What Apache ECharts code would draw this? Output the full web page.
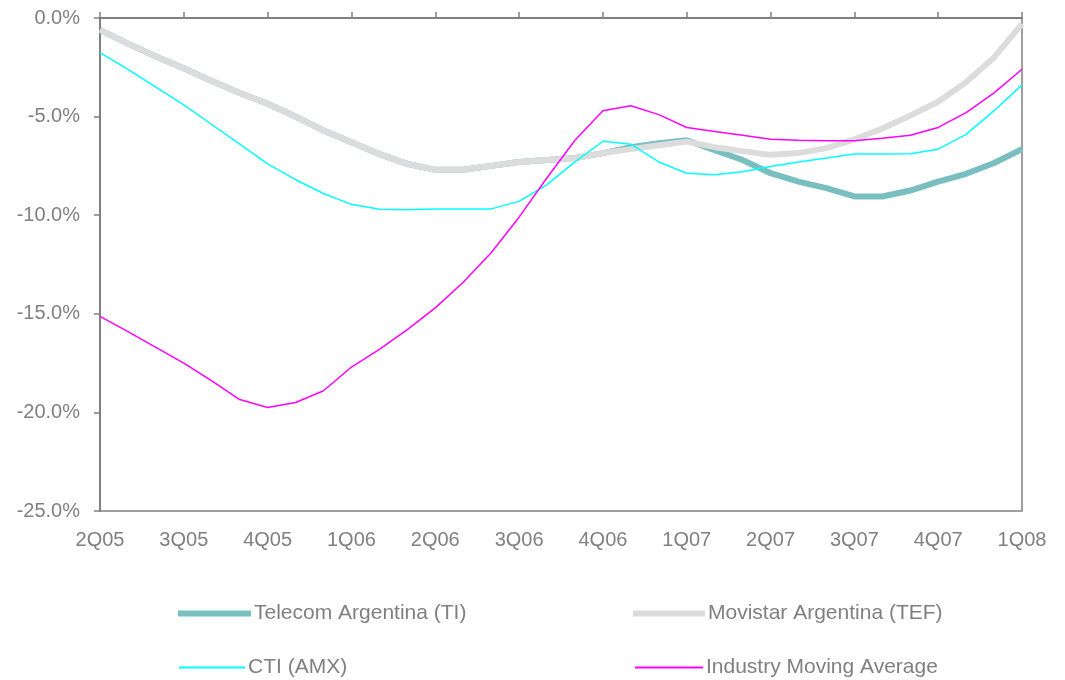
<!DOCTYPE html>
<html>
<head>
<meta charset="utf-8">
<script src="https://cdn.jsdelivr.net/npm/echarts@6/dist/echarts.min.js"></script>
<style>html,body{margin:0;padding:0;background:#fff}#c{width:1065px;height:680px}</style>
</head>
<body>
<div id="c"></div>
<script>
var quarterLabels = ['2Q05','3Q05','4Q05','1Q06','2Q06','3Q06','4Q06','1Q07','2Q07','3Q07','4Q07','1Q08'];
var months = ['Apr-05','May-05','Jun-05','Jul-05','Aug-05','Sep-05','Oct-05','Nov-05','Dec-05',
  'Jan-06','Feb-06','Mar-06','Apr-06','May-06','Jun-06','Jul-06','Aug-06','Sep-06','Oct-06','Nov-06','Dec-06',
  'Jan-07','Feb-07','Mar-07','Apr-07','May-07','Jun-07','Jul-07','Aug-07','Sep-07','Oct-07','Nov-07','Dec-07','Jan-08'];
var yTicks = [-25, -20, -15, -10, -5, 0];

var telecom = [-0.6,-1.3,-1.95,-2.55,-3.2,-3.8,-4.35,-5.0,-5.7,-6.3,-6.9,-7.4,-7.7,-7.7,-7.5,-7.3,-7.2,-7.1,-6.85,
  -6.55,-6.35,-6.2,-6.7,-7.2,-7.87,-8.3,-8.63,-9.05,-9.05,-8.75,-8.3,-7.9,-7.35,-6.65];
var movistar = [-0.6,-1.3,-1.95,-2.55,-3.2,-3.8,-4.35,-5.0,-5.7,-6.3,-6.9,-7.4,-7.7,-7.7,-7.5,-7.3,-7.2,-7.1,-6.85,
  -6.65,-6.45,-6.27,-6.55,-6.75,-6.94,-6.85,-6.6,-6.15,-5.6,-4.95,-4.25,-3.25,-2.0,-0.3];
var cti = [-1.76,-2.6,-3.5,-4.4,-5.4,-6.4,-7.4,-8.2,-8.9,-9.45,-9.7,-9.72,-9.68,-9.68,-9.68,-9.3,-8.45,-7.3,-6.25,
  -6.4,-7.3,-7.87,-7.95,-7.8,-7.53,-7.3,-7.1,-6.9,-6.9,-6.88,-6.65,-5.9,-4.7,-3.39];
var industry = [-15.13,-15.9,-16.7,-17.5,-18.4,-19.35,-19.75,-19.5,-18.9,-17.7,-16.8,-15.8,-14.7,-13.4,-11.9,-10.1,-8.1,-6.2,-4.7,
  -4.45,-4.9,-5.55,-5.75,-5.95,-6.15,-6.2,-6.22,-6.22,-6.1,-5.95,-5.55,-4.8,-3.8,-2.6];

var names = ['Telecom Argentina (TI)','Movistar Argentina (TEF)','CTI (AMX)','Industry Moving Average'];
var colors = ['#7ABFBF','#DCDCDC','#00FFFF','#FF00FF'];
var widths = [6, 6, 1.5, 1.5];
var datas = [telecom, movistar, cti, industry];

var FONT = 'Liberation Sans, Arial, sans-serif';
var chart = echarts.init(document.getElementById('c'), null, {renderer:'canvas'});

// [left, top, iconWidth]
var legendPos = [[173,598,73],[628,598,72],[174,652,66],[630,652,68]];
var legends = names.map(function(n,i){
  return {
    data:[n], left:legendPos[i][0], top:legendPos[i][1], orient:'horizontal',
    icon:'rect', itemWidth:legendPos[i][2], itemHeight: widths[i] > 3 ? 6 : 2, itemGap:4,
    textStyle:{color:'#808080', fontSize:21, fontFamily:FONT, padding:[0,0,0,-2]},
    selectedMode:false
  };
});

chart.setOption({
  animation:false,
  backgroundColor:'#fff',
  grid:{left:100, right:43, top:18, bottom:169, show:true, borderColor:'#808080', borderWidth:1.5, backgroundColor:'transparent'},
  legend: legends,
  xAxis:[{
    type:'category', data:months, boundaryGap:false, position:'bottom',
    axisLine:{show:false}, axisTick:{show:false}, splitLine:{show:false},
    axisLabel:{interval:2, margin:19, fontSize:20, color:'#808080', fontFamily:FONT,
      formatter:function(v, idx){ return quarterLabels[Math.round(idx/3)]; }}
  },{
    type:'category', data:months, boundaryGap:false, position:'top',
    axisLine:{show:true, lineStyle:{color:'#808080', width:2}},
    axisTick:{show:true, interval:2, length:6, lineStyle:{color:'#808080', width:1.5}},
    axisLabel:{show:false}, splitLine:{show:false}
  }],
  yAxis:{
    type:'value', min:yTicks[0], max:yTicks[yTicks.length-1], interval:5,
    axisLine:{show:true, lineStyle:{color:'#808080', width:2}},
    axisTick:{show:true, length:6, lineStyle:{color:'#808080', width:1.5}},
    splitLine:{show:false},
    axisLabel:{margin:20, fontSize:20, color:'#808080', fontFamily:FONT,
      formatter:function(v){ return v.toFixed(1) + '%'; }}
  },
  series: names.map(function(n,i){
    return {name:n, type:'line', data:datas[i], showSymbol:false, symbol:'none', smooth:false,
      color:colors[i], lineStyle:{color:colors[i], width:widths[i]}, z:2+i};
  })
});
</script>
</body>
</html>
